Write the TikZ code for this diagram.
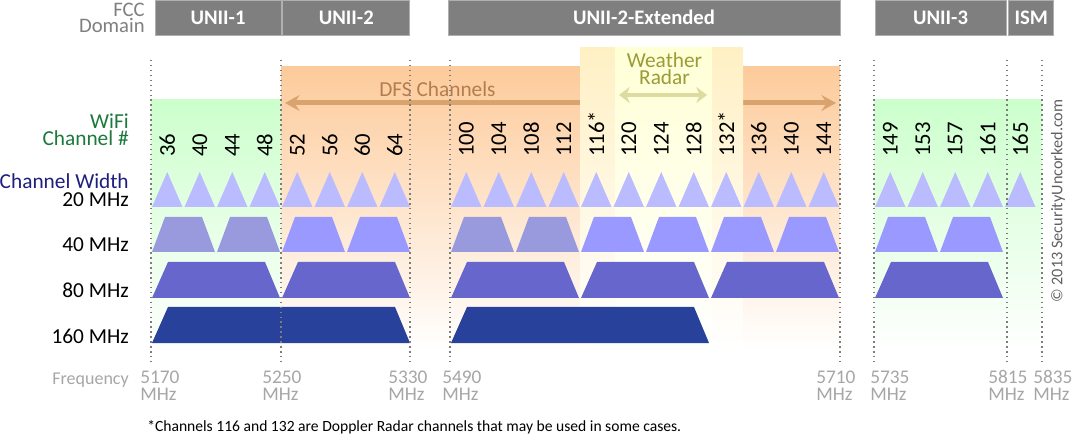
\documentclass[tikz,border=0pt]{standalone}
\usepackage{fontspec}
\setmainfont{Carlito}
\usetikzlibrary{positioning, arrows.meta}

\definecolor{domaingray}{RGB}{127,127,127}
\definecolor{boxedge}{RGB}{175,175,175}
\definecolor{wifigreen}{RGB}{28,120,60}
\definecolor{widthnavy}{RGB}{30,30,125}
\definecolor{freqgray}{RGB}{166,166,166}
\definecolor{dotgray}{RGB}{125,125,125}
\definecolor{copygray}{RGB}{96,96,96}
\definecolor{greenfill}{RGB}{204,255,204}
\definecolor{dfsfill}{RGB}{253,203,155}
\definecolor{dfsbrown}{RGB}{217,163,110}
\definecolor{dfstext}{RGB}{180,125,80}
\definecolor{radarouter}{RGB}{255,240,196}
\definecolor{radarinner}{RGB}{255,255,214}
\definecolor{radarolive}{RGB}{220,220,160}
\definecolor{radartext}{RGB}{155,155,55}
\definecolor{ch20}{RGB}{187,187,255}
\definecolor{ch40}{RGB}{153,153,255}
\definecolor{ch40dim}{RGB}{153,153,221}
\definecolor{ch80}{RGB}{102,102,204}
\definecolor{ch160}{RGB}{40,65,155}

\begin{document}
\begin{tikzpicture}[x=0.75pt, y=-0.75pt, >=Stealth,
    domainbox/.style={fill=domaingray, draw=boxedge, line width=0.6pt, text=white,
        font=\bfseries\fontsize{15.5}{18}\selectfont, minimum height=26.25pt, inner sep=0pt},
    chnum/.style={rotate=90, anchor=west, inner sep=0pt, font=\fontsize{17}{20}\selectfont},
    rowlabel/.style={anchor=base east, inner sep=0pt, font=\fontsize{16}{19}\selectfont},
    freq/.style={anchor=base west, inner sep=0pt, text=freqgray, font=\fontsize{14.5}{17}\selectfont},
    gridline/.style={draw=dotgray, line width=1.1pt, dash pattern=on 1.1pt off 2.6pt},
    dfsline/.style={<->, draw=dfsbrown, line width=3.75pt, >={Stealth[length=11pt,width=12pt,inset=4pt]}},
    radarline/.style={<->, draw=radarolive, line width=3pt, >={Stealth[length=8pt,width=12pt,inset=2.5pt]}}]

    \useasboundingbox (0,0) rectangle (1072,442);

    % background bands
    \shade[top color=greenfill, bottom color=white] (151,100) rectangle (281,350);
    \shade[top color=greenfill, bottom color=white] (874,100) rectangle (1042,350);
    \shade[top color=dfsfill, bottom color=white] (281,67) rectangle (840,350);

    \coordinate (dfsL) at (285,103);
    \coordinate (dfsR) at (836,103);
    \draw[dfsline] (dfsL) -- (dfsR);
    \node[anchor=base, inner sep=0pt, text=dfstext, font=\fontsize{16}{19}\selectfont] (dfs) at (437.5,97) {DFS Channels};

    % weather radar
    \shade[top color=radarouter, bottom color=white] (580,48) rectangle (615,350);
    \shade[top color=radarinner, bottom color=white] (615,48) rectangle (712,350);
    \shade[top color=radarouter, bottom color=white] (712,48) rectangle (743,350);
    \node[align=center, anchor=north, inner sep=0pt, text=radartext, font=\fontsize{16}{12.75}\selectfont] (radar) at (664.5,52) {Weather\\Radar};
    \coordinate (radarL) at (619,95);
    \coordinate (radarR) at (707,95);
    \draw[radarline] (radarL) -- (radarR);

    % FCC domains
    \node[domainbox, minimum width=94.5pt] (unii1) at (218,17.5) {UNII-1};
    \node[domainbox, minimum width=95.25pt, right=0.75pt of unii1] (unii2) {UNII-2};
    \node[domainbox, minimum width=294pt] (unii2e) at (644,17.5) {UNII-2-Extended};
    \node[domainbox, minimum width=98.25pt] (unii3) at (940.5,17.5) {UNII-3};
    \node[domainbox, minimum width=33.75pt, right=1.5pt of unii3] (ism) {ISM};

    % channel shapes
    \foreach \l in {151,183.5,...,378.5}
        \fill[ch20] (\l+1,207) -- (\l+16.25,172) -- (\l+31.5,207) -- cycle;
    \foreach \l in {450,482.5,...,807.5}
        \fill[ch20] (\l+1,207) -- (\l+16.25,172) -- (\l+31.5,207) -- cycle;
    \foreach \l in {874,906.5,...,1004}
        \fill[ch20] (\l+1,207) -- (\l+16.25,172) -- (\l+31.5,207) -- cycle;
    \foreach \l/\c in {151/ch40dim,216/ch40dim,281/ch40,346/ch40,450/ch40dim,515/ch40dim,
                      580/ch40,645/ch40,710/ch40,775/ch40,874/ch40,939/ch40}
        \fill[\c] (\l+1,252) -- (\l+14,217) -- (\l+51,217) -- (\l+64,252) -- cycle;
    \foreach \l in {151,281,450,580,710,874}
        \fill[ch80] (\l+1,298) -- (\l+17,262) -- (\l+114,262) -- (\l+129,298) -- cycle;
    \foreach \l in {151,450}
        \fill[ch160] (\l+1,343) -- (\l+17,307) -- (\l+244,307) -- (\l+259,343) -- cycle;

    \foreach \x in {151,281,410,450,840,874,1007,1042}
        \draw[gridline] (\x,60) -- (\x,365);

    % channel numbers
    \foreach \ch [count=\i from 0] in {36,40,44,48,52,56,60,64}
        \node[chnum] (ch\ch) at (167.25+32.5*\i,157) {\ch};
    \foreach \ch [count=\i from 0] in {100,104,108,112,116*,120,124,128,132*,136,140,144}
        \node[chnum] (ext\i) at (466.25+32.5*\i,157) {\ch};
    \foreach \ch [count=\i from 0] in {149,153,157,161,165}
        \node[chnum] (ch\ch) at (890.25+32.5*\i,157) {\ch};

    % row labels
    \node[rowlabel, text=domaingray, font=\fontsize{15.5}{18}\selectfont] (fcc) at (145,17) {FCC};
    \node[rowlabel, text=domaingray, font=\fontsize{15.5}{18}\selectfont] (domain) at (145,33) {Domain};
    \node[rowlabel, text=wifigreen] (wifi) at (129,129) {WiFi};
    \node[rowlabel, text=wifigreen] (chno) at (129,146) {Channel \#};
    \node[rowlabel, text=widthnavy] (chw) at (129,189) {Channel Width};
    \node[rowlabel] (w20) at (129,207) {20 MHz};
    \node[rowlabel] (w40) at (129,252) {40 MHz};
    \node[rowlabel] (w80) at (129,298) {80 MHz};
    \node[rowlabel] (w160) at (129,344) {160 MHz};
    \node[rowlabel, text=freqgray, font=\fontsize{13.5}{16}\selectfont] (freq) at (129,384) {Frequency};

    \foreach \x/\f in {140/5170,262/5250,388/5330,442/5490,816/5710,870/5735,988/5815,1033/5835} {
        \node[freq] (f\f) at (\x,383) {\f};
        \node[freq] (m\f) at (\x,400) {MHz};
    }

    \node[anchor=base west, inner sep=0pt, font=\fontsize{11.7}{14}\selectfont] (note) at (147,431)
        {*Channels 116 and 132 are Doppler Radar channels that may be used in some cases.};
    \node[rotate=90, inner sep=0pt, text=copygray, font=\fontsize{12.2}{14}\selectfont] (copy) at (1058,201)
        {© 2013 SecurityUncorked.com};
\end{tikzpicture}
\end{document}
